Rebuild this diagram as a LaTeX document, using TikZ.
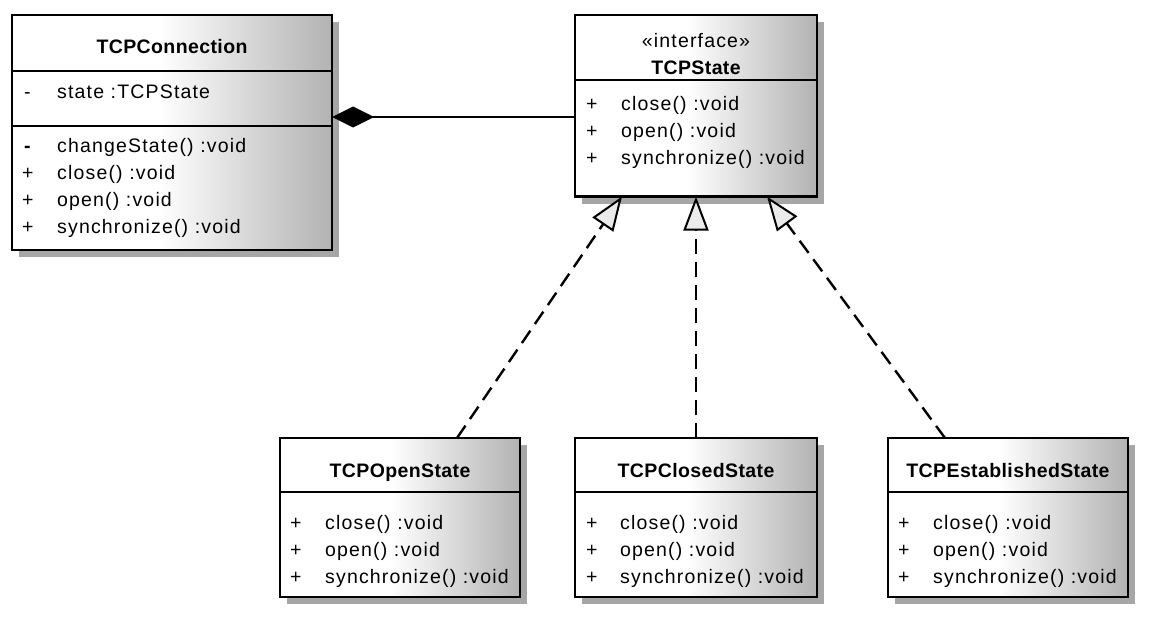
\documentclass[tikz,border=0pt]{standalone}
\usepackage{fontspec}
\setmainfont{Liberation Sans}[LetterSpace=6]
\newfontfamily\ttlfont{Liberation Sans}[LetterSpace=2]
\usetikzlibrary{arrows.meta,shadows,calc}
\pgfdeclarehorizontalshading{umlgrad}{100bp}{color(0bp)=(white); color(25bp)=(white); color(48bp)=(white); color(75bp)=(black!30); color(100bp)=(black!30)}
\tikzset{
  umlbox/.style={draw, line width=2.6pt, shade, shading=umlgrad,
    drop shadow={shadow xshift=7pt, shadow yshift=-7pt, fill=black!35, opacity=1},
    inner sep=0pt, outer sep=0pt},
  divline/.style={line width=2.6pt},
  txt/.style={anchor=base west, inner sep=0pt,
    font=\fontsize{19.5}{23}\selectfont},
  ttl/.style={anchor=base, inner sep=0pt,
    font=\fontsize{19.5}{23}\selectfont\ttlfont\bfseries},
  stereo/.style={anchor=base, inner sep=0pt,
    font=\fontsize{19.5}{23}\selectfont},
  compo/.style={line width=2.4pt, -{Diamond[length=42pt,width=21pt]}},
  realize/.style={line width=2.4pt, dash pattern=on 15pt off 8pt,
    -{Triangle[length=34pt,width=25pt,fill=black!8,line width=2pt]}},
}
\begin{document}
\begin{tikzpicture}[x=1pt,y=-1pt]
\useasboundingbox (0,0) rectangle (1150,621);

% ---------- TCPConnection ----------
\node[umlbox, minimum width=320pt, minimum height=235pt] (conn) at (172,132.5) {};
\draw[divline] (conn.west |- 0,71) -- (conn.east |- 0,71);
\draw[divline] (conn.west |- 0,126) -- (conn.east |- 0,126);
\node[ttl] (connT) at (172,53) {TCPConnection};
\node[txt] (connA1v) at (24,98) {-};
\node[txt] (connA1) at (57,98) {state :TCPState};
\node[txt] (connM1v) at (24,152) {\bfseries -};
\node[txt] (connM1) at (57,152) {changeState() :void};
\node[txt] (connM2v) at (22,179) {+};
\node[txt] (connM2) at (57,179) {close() :void};
\node[txt] (connM3v) at (22,206) {+};
\node[txt] (connM3) at (57,206) {open() :void};
\node[txt] (connM4v) at (22,233) {+};
\node[txt] (connM4) at (57,233) {synchronize() :void};

% ---------- TCPState ----------
\node[umlbox, minimum width=242pt, minimum height=181.5pt] (state) at (696,105.75) {};
\draw[divline] (state.west |- 0,80) -- (state.east |- 0,80);
\node[stereo] (stateS) at (696,47) {«interface»};
\node[ttl] (stateT) at (696,74) {TCPState};
\node[txt] (stateM1v) at (586,110) {+};
\node[txt] (stateM1) at (621,110) {close() :void};
\node[txt] (stateM2v) at (586,137) {+};
\node[txt] (stateM2) at (621,137) {open() :void};
\node[txt] (stateM3v) at (586,164) {+};
\node[txt] (stateM3) at (621,164) {synchronize() :void};

% ---------- TCPOpenState ----------
\node[umlbox, minimum width=240pt, minimum height=159pt] (open) at (400,517.5) {};
\draw[divline] (open.west |- 0,492) -- (open.east |- 0,492);
\node[ttl] (openT) at (400,477) {TCPOpenState};
\node[txt] (openM1v) at (290,529) {+};
\node[txt] (openM1) at (325,529) {close() :void};
\node[txt] (openM2v) at (290,556) {+};
\node[txt] (openM2) at (325,556) {open() :void};
\node[txt] (openM3v) at (290,583) {+};
\node[txt] (openM3) at (325,583) {synchronize() :void};

% ---------- TCPClosedState ----------
\node[umlbox, minimum width=242pt, minimum height=159pt] (closed) at (696,517.5) {};
\draw[divline] (closed.west |- 0,492) -- (closed.east |- 0,492);
\node[ttl] (closedT) at (696,477) {TCPClosedState};
\node[txt] (closedM1v) at (586,529) {+};
\node[txt] (closedM1) at (620,529) {close() :void};
\node[txt] (closedM2v) at (586,556) {+};
\node[txt] (closedM2) at (620,556) {open() :void};
\node[txt] (closedM3v) at (586,583) {+};
\node[txt] (closedM3) at (620,583) {synchronize() :void};

% ---------- TCPEstablishedState ----------
\node[umlbox, minimum width=240pt, minimum height=159pt] (est) at (1008,517.5) {};
\draw[divline] (est.west |- 0,492) -- (est.east |- 0,492);
\node[ttl] (estT) at (1008,477) {TCPEstablishedState};
\node[txt] (estM1v) at (898,529) {+};
\node[txt] (estM1) at (933,529) {close() :void};
\node[txt] (estM2v) at (898,556) {+};
\node[txt] (estM2) at (933,556) {open() :void};
\node[txt] (estM3v) at (898,583) {+};
\node[txt] (estM3) at (933,583) {synchronize() :void};

% ---------- connectors ----------
\coordinate (connD) at (conn.east |- 0,117);
\coordinate (stateD) at (state.west |- 0,117);
\draw[compo] (stateD) -- (connD);

\coordinate (stateR1) at ($(state.south west)+(47,0)$);
\coordinate (stateR2) at (state.south);
\coordinate (stateR3) at ($(state.south west)+(192,0)$);
\coordinate (openR) at ($(open.north west)+(177,0)$);
\coordinate (closedR) at (closed.north);
\coordinate (estR) at ($(est.north west)+(57,0)$);
\draw[realize] (openR) -- (stateR1);
\draw[realize] (closedR) -- (stateR2);
\draw[realize] (estR) -- (stateR3);
\end{tikzpicture}
\end{document}
